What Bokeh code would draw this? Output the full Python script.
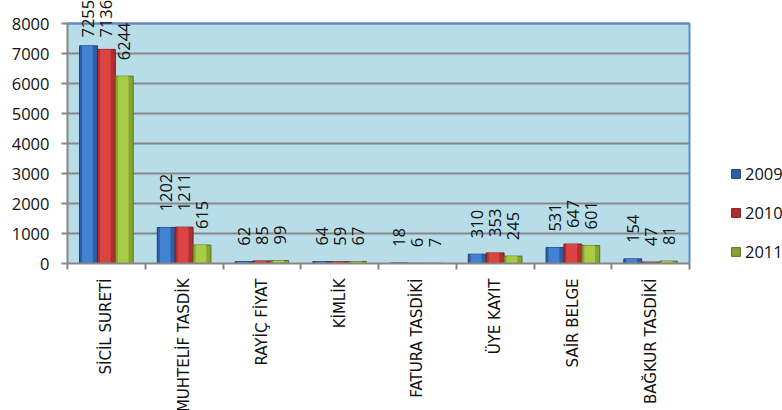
import math
import numpy as np
from bokeh.plotting import figure
from bokeh.models import (Range1d, FixedTicker, ColumnDataSource, Legend, LegendItem)
from bokeh.core.properties import value
from bokeh.embed import file_html
from bokeh.resources import INLINE

categories = ["SİCİL SURETİ", "MUHTELİF TASDİK", "RAYİÇ FİYAT", "KİMLİK",
              "FATURA TASDİKİ", "ÜYE KAYIT", "SAİR BELGE", "BAĞKUR TASDİKİ"]
years = ["2009", "2010", "2011"]
v2009 = [7255, 1202, 62, 64, 18, 310, 531, 154]
v2010 = [7136, 1211, 85, 59, 6, 353, 647, 47]
v2011 = [6244, 615, 99, 67, 7, 245, 601, 81]
y_ticks = [0, 1000, 2000, 3000, 4000, 5000, 6000, 7000, 8000]

edge_fills = ["#2d5fa6", "#b32e2e", "#84a52e"]
mid_fills = ["#4382d2", "#dc4444", "#a9cb45"]
lines = ["#1f3e75", "#7a1d1d", "#5a7020"]

# layout (pixels): canvas size and plot-area edges inside it
W, H = 782, 410
PL, PR, PT, PB = 67, 689, 23, 263
ncat = len(categories)
ymax = y_ticks[-1]
xpx = (PR - PL) / ncat
ypx = (PB - PT) / ymax

p = figure(width=W, height=H, output_backend="svg", toolbar_location=None,
           x_range=Range1d(-PL / xpx, ncat + (W - PR) / xpx),
           y_range=Range1d(-(H - PB) / ypx, ymax + PT / ypx),
           min_border=0, min_border_left=0, min_border_right=0,
           min_border_top=0, min_border_bottom=0)
p.background_fill_color = "white"
p.border_fill_color = "white"
p.outline_line_color = None
p.xgrid.grid_line_color = None
p.ygrid.grid_line_color = None

# plot area wall
p.quad(left=[0], right=[ncat], bottom=[0], top=[ymax],
       fill_color="#b7dee8", line_color=None)
grid_y = y_ticks[1:]
p.segment(x0=[0] * len(grid_y), x1=[ncat] * len(grid_y), y0=grid_y, y1=grid_y,
          line_color="#878787", line_width=2)
# blue frame border (top and right)
p.line(x=[0, ncat, ncat], y=[ymax, ymax, 0], line_color="#5b8bd0", line_width=2)

FONT = value("Open Sans")
bw = 0.23
offs = [-bw, 0.0, bw]
renderers = []
for vals, off, ef, mf, lc in zip([v2009, v2010, v2011], offs, edge_fills, mid_fills, lines):
    xs = np.arange(ncat) + 0.5 + off
    src = ColumnDataSource(dict(x=xs, xi=xs - bw * 0.06, top=vals,
                                lab=[str(v) for v in vals],
                                ly=np.minimum(vals, 7000)))
    r = p.vbar(x="x", top="top", bottom=0, width=bw, source=src,
               fill_color=ef, line_color=lc, line_width=1)
    p.vbar(x="xi", top="top", bottom=0, width=bw * 0.6, source=src,
           fill_color=mf, line_color=None)
    renderers.append(r)
    p.text(x="x", y="ly", text="lab", source=src, angle=math.pi / 2,
           text_align="left", text_baseline="middle", y_offset=-16,
           text_font=FONT, text_font_size="16.5px", text_color="#111111")

# y axis at x = 0
p.yaxis.fixed_location = 0
p.yaxis.bounds = (0, ymax)
p.yaxis.ticker = FixedTicker(ticks=y_ticks)
p.yaxis.axis_line_color = "#868686"
p.yaxis.axis_line_width = 2
p.yaxis.major_tick_line_color = "#868686"
p.yaxis.major_tick_line_width = 2
p.yaxis.major_tick_out = 6
p.yaxis.major_tick_in = 0
p.yaxis.minor_tick_line_color = None
p.yaxis.major_label_standoff = 12
p.yaxis.major_label_text_font = "Open Sans"
p.yaxis.major_label_text_font_size = "16.5px"
p.yaxis.major_label_text_color = "#111111"

# x axis at y = 0, ticks at category boundaries, labels at centers
centers = [i + 0.5 for i in range(ncat)]
p.xaxis.fixed_location = 0
p.xaxis.bounds = (0, ncat)
p.xaxis.ticker = FixedTicker(ticks=centers, minor_ticks=list(range(ncat + 1)))
p.xaxis.major_label_overrides = {c: lab for c, lab in zip(centers, categories)}
p.xaxis.major_label_orientation = math.pi / 2
p.xaxis.axis_line_color = "#868686"
p.xaxis.axis_line_width = 2
p.xaxis.major_tick_line_color = None
p.xaxis.major_tick_out = 0
p.xaxis.major_tick_in = 0
p.xaxis.minor_tick_line_color = "#868686"
p.xaxis.minor_tick_line_width = 2
p.xaxis.minor_tick_out = 6
p.xaxis.minor_tick_in = 0
p.xaxis.major_label_standoff = 9
p.xaxis.major_label_text_font = "DejaVu Sans"
p.xaxis.major_label_text_font_size = "15px"
p.xaxis.major_label_text_color = "#111111"

legend = Legend(items=[LegendItem(label=y, renderers=[r]) for y, r in zip(years, renderers)],
                location=(730, H - 263), orientation="vertical")
legend.glyph_width = 11
legend.glyph_height = 11
legend.label_standoff = 4
legend.spacing = 16
legend.label_height = 20
legend.padding = 0
legend.margin = 0
legend.border_line_color = None
legend.background_fill_alpha = 0
legend.label_text_font = "Open Sans"
legend.label_text_font_size = "16.5px"
legend.label_text_color = "#111111"
p.add_layout(legend, "center")

open("out.html", "w").write(file_html(p, INLINE))
